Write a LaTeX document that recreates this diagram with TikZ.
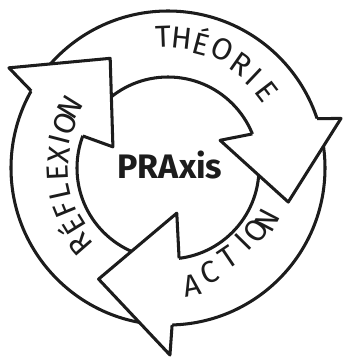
\documentclass[tikz,border=0pt]{standalone}
\usepackage{fontspec}
\setmainfont{Fira Sans}
\definecolor{inkcolor}{HTML}{1c1c1c}
\definecolor{paperfill}{HTML}{ffffff}

\begin{document}
\begin{tikzpicture}[scale=0.03, line width=2.6pt, line join=round,
                    every node/.style={inner sep=0pt}]

%%=== COORDINATE PLAN (1 unit = 1 px of the sketch) ==================
%%  Hub (centre of the cycle) at the origin
%%  Ring: outer radius 157, inner radius 91
%%  Heads: base on the ring, wings at r~185 / r~55, tip at r~125
%%  Théorie head ~ 18 -> -16 deg, Action ~ -88 -> -122, Réflexion ~ 151 -> 118
%%====================================================================
\tikzset{
  ring/.style={draw=inkcolor, fill=paperfill, even odd rule},
  headfill/.style={fill=paperfill},
  headline/.style={draw=inkcolor},
  letter/.style={font=\fontsize{26}{26}\selectfont, text=inkcolor},
  hub/.style={font=\fontsize{29}{29}\selectfont\bfseries, text=inkcolor}
}

\useasboundingbox (-168,-190) rectangle (175,168);
\fill[paperfill] (-168,-190) rectangle (175,168);

%% --- Ring (all three shafts) ---------------------------------------
\draw[ring] (0,0) circle (157) (0,0) circle (91);

%% --- Arrow heads ---------------------------------------------------
%% Théorie (right)
\coordinate (thBo)  at (18.3:157);
\coordinate (thWo)  at (16:180);
\coordinate (thTip) at (-15.8:125);
\coordinate (thWi)  at (28:59);
\coordinate (thBi)  at (22:91);
\fill[headfill] (thBo) -- (thWo) -- (thTip) -- (thWi) -- (thBi) -- cycle;
\draw[headline] (thBo) -- (thWo) -- (thTip) -- (thWi) -- (thBi);

%% Action (bottom)
\coordinate (acBo)  at (-88.5:157);
\coordinate (acWo)  at (-89.4:187);
\coordinate (acTip) at (-122:131);
\coordinate (acWi)  at (-79:46);
\coordinate (acBi)  at (-83:91);
\fill[headfill] (acBo) -- (acWo) -- (acTip) -- (acWi) -- (acBi) -- cycle;
\draw[headline] (acBo) -- (acWo) -- (acTip) -- (acWi) -- (acBi);

%% Réflexion (top left)
\coordinate (reBo)  at (150.6:157);
\coordinate (reWo)  at (147.8:188);
\coordinate (reTip) at (117.8:124);
\coordinate (reWi)  at (159:59);
\coordinate (reBi)  at (159.4:91);
\fill[headfill] (reBo) -- (reWo) -- (reTip) -- (reWi) -- (reBi) -- cycle;
\draw[headline] (reBo) -- (reWo) -- (reTip) -- (reWi) -- (reBi);

%% --- Labels along the ring -----------------------------------------
\foreach \ch/\a/\r [count=\i] in {T/92.2/131, H/83.9/131, É/75.1/131,
    O/65.4/130, R/55/127, I/46.6/125, E/37.5/125}
  \node[letter, rotate=\a-90] (th\i) at (\a:\r) {\ch};

\foreach \ch/\a/\r [count=\i] in {R/221.2/116, É/211.6/113, F/202.2/111,
    L/192.5/111, E/182.6/110, X/173.1/110, I/165.5/112, O/156.4/112,
    N/148.1/115}
  \node[letter, rotate=\a-90] (re\i) at (\a:\r) {\ch};

\foreach \ch/\a/\r [count=\i] in {A/-78.6/120, C/-68.2/113, T/-56/108,
    I/-44.5/105, O/-35.5/108, N/-27.7/112}
  \node[letter, rotate=\a+90] (ac\i) at (\a:\r) {\ch};

%% --- Hub -----------------------------------------------------------
\node[hub] (praxis) at (2,3) {PRAxis};

\end{tikzpicture}
\end{document}
